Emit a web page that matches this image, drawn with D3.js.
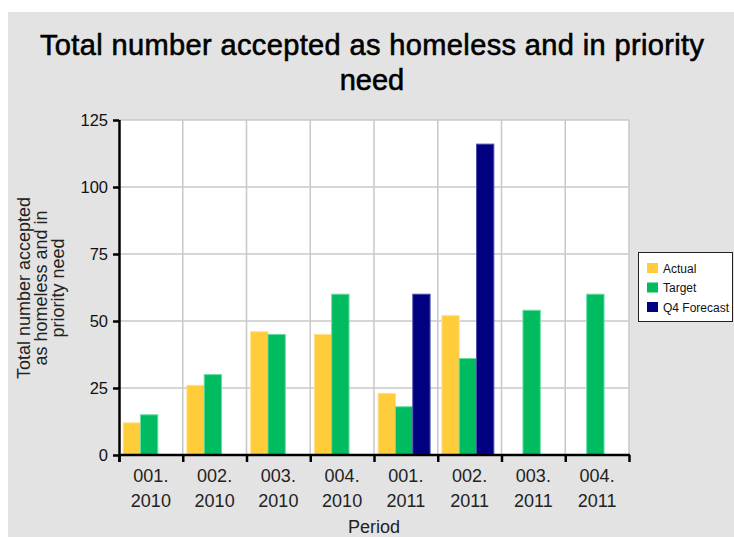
<!DOCTYPE html>
<html>
<head>
<meta charset="utf-8">
<script src="https://cdn.jsdelivr.net/npm/d3@7"></script>
<style>
  body { margin: 0; background: #fff; }
  text { font-family: "Liberation Sans", Arial, sans-serif; fill: #111; }
</style>
</head>
<body>
<div id="chart"></div>
<script>
// chart data
const periods = ["001. 2010", "002. 2010", "003. 2010", "004. 2010",
                 "001. 2011", "002. 2011", "003. 2011", "004. 2011"];
const seriesNames = ["Actual", "Target", "Q4 Forecast"];
const actual   = [12, 26, 46, 45, 23, 52, null, null];
const target   = [15, 30, 45, 60, 18, 36, 54, 60];
const forecast = [null, null, null, null, 60, 116, null, null];
const yTicks = [0, 25, 50, 75, 100, 125];
const colors = ["#ffcc3c", "#00bb5f", "#000080"];
const strokes = ["#ffe08a", "#66dd9f", "#5050a8"];

const width = 734, height = 537;
const plot = { left: 119, right: 629, top: 120, bottom: 455 };

const svg = d3.select("#chart").append("svg")
    .attr("width", width)
    .attr("height", height);

// grey panel
svg.append("rect")
    .attr("x", 8).attr("y", 12)
    .attr("width", width - 8).attr("height", height - 12)
    .attr("fill", "#e3e3e3");

// title
const title = svg.append("text")
    .attr("text-anchor", "middle")
    .style("font-size", "29px")
    .style("fill", "#000")
    .attr("stroke", "#000").attr("stroke-width", 0.6);
title.append("tspan").attr("x", 372).attr("y", 55)
    .attr("textLength", 664).attr("lengthAdjust", "spacing")
    .text("Total number accepted as homeless and in priority");
title.append("tspan").attr("x", 372).attr("y", 90).text("need");

// scales
const x = d3.scaleBand().domain(periods).range([plot.left, plot.right]);
const y = d3.scaleLinear().domain([0, 125]).range([plot.bottom, plot.top]);

// plot background
svg.append("rect")
    .attr("x", plot.left).attr("y", plot.top)
    .attr("width", plot.right - plot.left).attr("height", plot.bottom - plot.top)
    .attr("fill", "#fff");

// gridlines
const grid = svg.append("g").attr("stroke", "#c8c8c8").attr("stroke-width", 1.5);
grid.selectAll(".h").data(yTicks.slice(1)).enter().append("line")
    .attr("x1", plot.left).attr("x2", plot.right)
    .attr("y1", d => y(d)).attr("y2", d => y(d));
grid.selectAll(".v").data(periods.slice(1).concat(["end"])).enter().append("line")
    .attr("x1", (d, i) => i < periods.length - 1 ? x(d) : plot.right)
    .attr("x2", (d, i) => i < periods.length - 1 ? x(d) : plot.right)
    .attr("y1", plot.top).attr("y2", plot.bottom);

// bars
const bw = x.bandwidth();
const sub = d3.scaleBand().domain([0, 1, 2])
    .range([bw * 0.065, bw * 0.065 + bw * 0.815]);
const allSeries = [actual, target, forecast];
allSeries.forEach((vals, s) => {
    svg.append("g").selectAll("rect")
        .data(vals.map((v, i) => ({ p: periods[i], v })).filter(d => d.v != null))
        .enter().append("rect")
        .attr("x", d => x(d.p) + sub(s))
        .attr("width", sub.bandwidth())
        .attr("y", d => y(d.v))
        .attr("height", d => y(0) - y(d.v))
        .attr("fill", colors[s])
        .attr("stroke", strokes[s])
        .attr("stroke-width", 1);
});

// y axis
const yAxis = svg.append("g")
    .attr("transform", `translate(${plot.left},0)`)
    .call(d3.axisLeft(y).tickValues(yTicks).tickSize(6).tickPadding(5));
yAxis.select(".domain").attr("stroke", "#000").attr("stroke-width", 2.5)
    .attr("d", `M0.5,${plot.top}V${plot.bottom + 7}`);
yAxis.selectAll(".tick line").attr("stroke", "#000").attr("stroke-width", 2.5);
yAxis.selectAll(".tick text").style("font-size", "16.5px").attr("fill", "#222");

// x axis
const xAxis = svg.append("g")
    .attr("transform", `translate(0,${plot.bottom})`);
xAxis.append("line")
    .attr("x1", plot.left).attr("x2", plot.right + 1)
    .attr("stroke", "#000").attr("stroke-width", 2.5);
const edges = periods.map(p => x(p)).concat([plot.right]);
xAxis.selectAll(".xt").data(edges).enter().append("line")
    .attr("x1", d => d + 0.5).attr("x2", d => d + 0.5)
    .attr("y1", 0).attr("y2", 7)
    .attr("stroke", "#000").attr("stroke-width", 2.5);
const xl = xAxis.selectAll(".xl").data(periods).enter().append("text")
    .attr("text-anchor", "middle")
    .style("font-size", "18px")
    .style("fill", "#222");
xl.append("tspan").attr("x", d => x(d) + bw / 2).attr("y", 27)
    .text(d => d.split(" ")[0]);
xl.append("tspan").attr("x", d => x(d) + bw / 2).attr("y", 52)
    .text(d => d.split(" ")[1]);

// axis titles
svg.append("text")
    .attr("x", (plot.left + plot.right) / 2).attr("y", 533)
    .attr("text-anchor", "middle")
    .style("font-size", "18px")
    .style("fill", "#222")
    .text("Period");

const yTitle = svg.append("text")
    .attr("transform", "translate(0,288) rotate(-90)")
    .attr("text-anchor", "middle")
    .style("font-size", "18px")
    .style("fill", "#222");
["Total number accepted", "as homeless and in", "priority need"].forEach((t, i) => {
    yTitle.append("tspan").attr("x", 0).attr("y", 30 + i * 17).text(t);
});

// legend
const legend = svg.append("g").attr("transform", "translate(638,252)");
legend.append("rect")
    .attr("x", 0.5).attr("y", 0.5).attr("width", 94).attr("height", 69)
    .attr("fill", "#fff").attr("stroke", "#222").attr("stroke-width", 1);
seriesNames.forEach((n, i) => {
    const row = legend.append("g").attr("transform", `translate(9,${11 + i * 19.5})`);
    row.append("rect").attr("width", 11).attr("height", 10).attr("fill", colors[i]);
    row.append("text").attr("x", 16).attr("y", 9.5)
        .style("font-size", "12px").text(n);
});
</script>
</body>
</html>
